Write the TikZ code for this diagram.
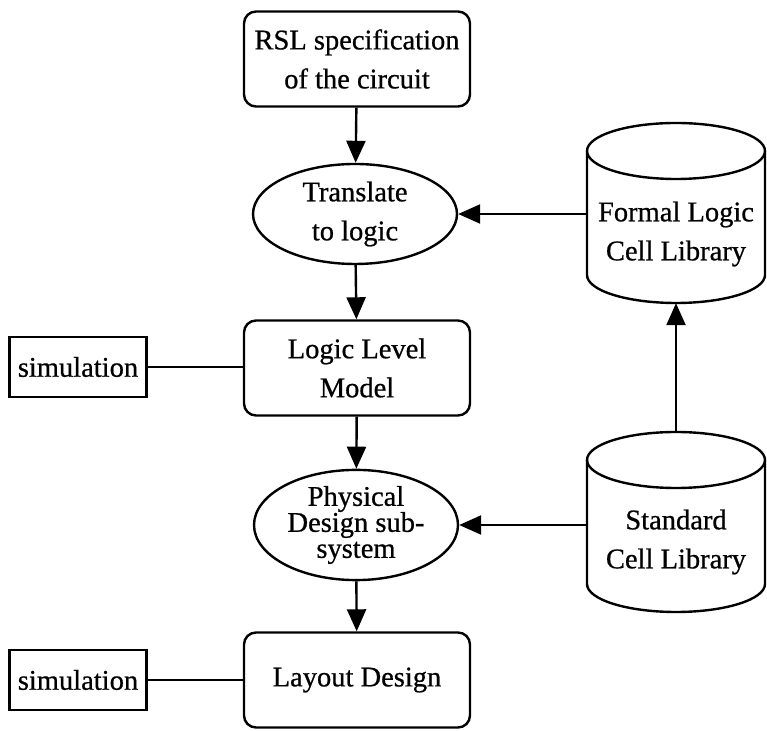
\documentclass[tikz,border=0pt]{standalone}
\usepackage{fontspec}
\setmainfont{Liberation Serif}[FakeBold=0.7]
\usetikzlibrary{arrows.meta,shapes.geometric}
\begin{document}
\begin{tikzpicture}[x=1pt,y=1pt,
  every node/.style={font=\fontsize{28.5}{39}\selectfont, inner sep=0pt, align=center},
  rbox/.style={draw, line width=2.4pt, rounded corners=12pt, minimum width=226pt, minimum height=95pt},
  ebox/.style={draw, line width=2.4pt, ellipse, minimum width=204pt, minimum height=100pt},
  simbox/.style={draw, line width=2.4pt, minimum width=137pt, minimum height=60pt},
  cylbox/.style={minimum width=178pt, minimum height=180pt},
  cyl/.style={line width=2.4pt},
  arr/.style={line width=2.4pt, -{Triangle[length=22pt,width=19pt]}},
  link/.style={line width=2.2pt}]
\useasboundingbox (0,0) rectangle (767,730);
% main column
\node[rbox] (rsl) at (357,671) {RSL specification\\of the circuit};
\node[ebox] (trans) at (355,516) {Translate\\to logic};
\node[rbox] (logic) at (357,362) {Logic Level\\Model};
\node[ebox, font=\fontsize{28.5}{26}\selectfont] (phys) at (356,205) {Physical\\Design sub-\\system};
\node[rbox] (layout) at (357,50) {Layout Design};
% simulations
\node[simbox] (sim1) at (78,363) {simulation};
\node[simbox] (sim2) at (78,50) {simulation};
% cylinders
\node[cylbox] (cyl1) at (676,517) {};
\node (cyl1t) at (676,496) {Formal Logic\\Cell Library};
\node[cylbox] (cyl2) at (676,208) {};
\node (cyl2t) at (676,188) {Standard\\Cell Library};
\draw[cyl] (587,579) -- (587,455) arc[start angle=180, end angle=360, x radius=89pt, y radius=28pt] -- (765,579);
\draw[cyl] (676,579) ellipse [x radius=89pt, y radius=28pt];
\draw[cyl] (587,270) -- (587,146) arc[start angle=180, end angle=360, x radius=89pt, y radius=28pt] -- (765,270);
\draw[cyl] (676,270) ellipse [x radius=89pt, y radius=28pt];
% connectors
\draw[arr] (rsl) -- (trans);
\draw[arr] (trans) -- (logic);
\draw[arr] (logic) -- (phys);
\draw[arr] (phys) -- (layout);
\draw[arr] (cyl1.west |- trans.east) -- (trans.east);
\draw[arr] (cyl2.west |- phys.east) -- (phys.east);
\draw[arr] (cyl2.north) -- (cyl1.south);
\draw[link] (sim1.east) -- (sim1.east -| logic.west);
\draw[link] (sim2.east) -- (layout.west);
\end{tikzpicture}
\end{document}
